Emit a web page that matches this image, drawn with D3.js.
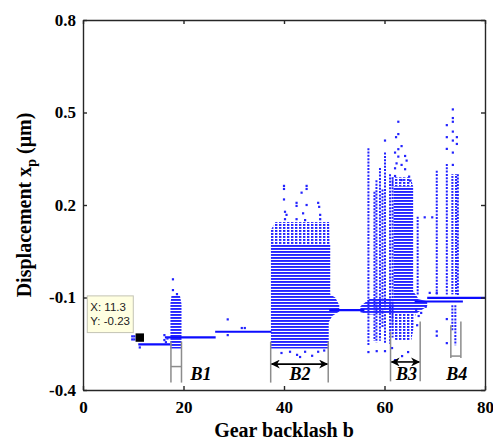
<!DOCTYPE html>
<html>
<head>
<meta charset="utf-8">
<script src="https://cdn.jsdelivr.net/npm/d3@7"></script>
<style>
body { margin: 0; background: #fff; }
svg { display: block; }
.axis text { font-family: "Liberation Serif", "Times New Roman", serif; font-weight: bold; font-size: 17px; fill: #000; }
.axis path, .axis line { stroke: #262626; stroke-width: 1.4; }
.label { font-family: "Liberation Serif", "Times New Roman", serif; font-weight: bold; fill: #000; }
.tip text { font-family: "Liberation Sans", Arial, sans-serif; font-size: 11.5px; fill: #222; }
</style>
</head>
<body>
<svg id="chart" width="493" height="441"></svg>
<script>
// axis setup
const xTicks = [0, 20, 40, 60, 80]
const yTicks = [-0.4, -0.1, 0.2, 0.5, 0.8]

// period-1 branches: [b start, b end, displacement]
const branchLines = [
    [11.0, 17.4, -0.252],
    [16.3, 26.4, -0.229],
    [26.3, 37.5, -0.211],
    [49.0, 56.0, -0.141],
    [66.0, 75.6, -0.113],
    [68.5, 80.0, -0.101]
]

// dense chaotic regions, outlines as [b, displacement]
const denseRegions = [
    [[17.6, -0.095], [19.3, -0.095], [19.6, -0.12], [19.6, -0.265], [17.4, -0.265], [17.4, -0.12]],
    [[37.4, 0.070], [49.2, 0.070], [49.2, -0.09], [50.2, -0.10], [51.0, -0.125], [51.0, -0.145],
     [49.6, -0.16], [48.9, -0.18], [48.9, -0.265], [37.4, -0.265]],
    [[61.8, 0.26], [65.7, 0.26], [65.7, -0.08], [66.6, -0.10], [66.6, -0.112], [61.8, -0.112]],
    [[55.2, -0.128], [57.0, -0.105], [66.6, -0.105], [68.5, -0.112], [68.5, -0.128], [66.5, -0.15],
     [57.0, -0.155], [55.2, -0.148]]
]

// less dense regions
const mediumRegions = [
    [[37.4, 0.070], [37.4, 0.12], [38.3, 0.145], [49.0, 0.145], [49.2, 0.070]],
    [[61.4, 0.26], [61.6, 0.29], [65.2, 0.29], [65.7, 0.26]],
    [[61.4, -0.15], [66.2, -0.15], [65.8, -0.20], [65.3, -0.24], [62.2, -0.24], [61.4, -0.20]],
    [[73.3, 0.30], [74.5, 0.30], [74.5, -0.09], [73.3, -0.09]]
]

// single-b columns of points: [b, top, bottom]
const pointColumns = [
    [56.8, 0.384, -0.255],
    [58.0, 0.243, -0.240],
    [58.4, 0.280, -0.245],
    [59.1, 0.320, -0.240],
    [59.6, 0.250, -0.200],
    [60.1, 0.370, -0.250],
    [61.1, 0.300, -0.250],
    [61.6, 0.290, -0.230],
    [66.6, 0.162, -0.090],
    [70.4, 0.311, -0.090],
    [72.4, 0.333, -0.090],
    [74.6, 0.300, -0.095],
    [73.5, -0.125, -0.210],
    [74.1, -0.125, -0.255]
]

// isolated points [b, displacement]
const scatterPoints = [
    [9.8, -0.226], [10.2, -0.226], [9.8, -0.236], [10.2, -0.236], [11.3, -0.262],
    [17.9, -0.041], [17.9, -0.076], [18.7, -0.089],
    [16.2, -0.222], [16.2, -0.238], [16.8, -0.233], [16.5, -0.245],
    [28.8, -0.171], [28.8, -0.222], [31.6, -0.199], [32.2, -0.199],
    [40.0, 0.262], [44.5, 0.262], [40.0, 0.252], [44.5, 0.252], [43.5, 0.240], [40.0, 0.218],
    [42.5, 0.207], [46.8, 0.207], [42.5, 0.197], [44.5, 0.200], [47.0, 0.194], [40.2, 0.178],
    [40.5, 0.168], [43.8, 0.173], [47.2, 0.168], [40.2, 0.154], [42.5, 0.154], [44.2, 0.151],
    [47.2, 0.154],
    [41.2, -0.276], [42.6, -0.286], [44.2, -0.276], [45.6, -0.289], [46.8, -0.276], [43.2, -0.293],
    [39.5, -0.280], [48.0, -0.272],
    [62.75, 0.470], [62.75, 0.430], [62.3, 0.420], [63.4, 0.391], [62.1, 0.370], [62.75, 0.381],
    [64.1, 0.359], [62.75, 0.357], [64.4, 0.344], [62.4, 0.335], [63.4, 0.330], [62.1, 0.319],
    [64.1, 0.316], [62.1, 0.294], [63.4, 0.281], [64.9, 0.292], [65.1, 0.279], [60.1, 0.409],
    [58.45, -0.274], [60.1, -0.274], [56.8, -0.277], [62.1, -0.303], [63.5, -0.290],
    [64.7, -0.277], [61.5, -0.264],
    [68.0, 0.160], [69.5, 0.160],
    [66.3, -0.140], [66.8, -0.160], [67.3, -0.150], [68.2, -0.130], [66.5, -0.190],
    [69.0, -0.085], [70.4, -0.085], [70.4, -0.210], [70.4, -0.224], [72.4, -0.248], [72.4, -0.170],
    [73.6, 0.510], [72.4, 0.459], [72.4, 0.420], [74.4, 0.420], [73.6, 0.438], [73.6, 0.470],
    [73.6, 0.482], [73.6, 0.409], [74.4, 0.398], [72.4, 0.382], [73.6, 0.370], [73.6, 0.33]
]

// bracket annotations
const bracketLines = [
    [17.5, -0.243, -0.376], [19.6, -0.243, -0.376],
    [37.35, -0.243, -0.376], [48.8, -0.243, -0.376],
    [61.2, -0.211, -0.372], [67.1, -0.178, -0.372],
    [73.2, -0.190, -0.296], [75.2, -0.178, -0.296]
]
const crossBars = [[17.5, 19.6, -0.324], [73.2, 75.2, -0.290]]
const arrowBars = [[37.35, 48.8, -0.316], [61.2, 67.1, -0.309]]
const bracketLabels = [
    {name: 'B', sub: '1', b: 23.5, v: -0.368},
    {name: 'B', sub: '2', b: 43.2, v: -0.368},
    {name: 'B', sub: '3', b: 64.4, v: -0.368},
    {name: 'B', sub: '4', b: 74.4, v: -0.368}
]

const dataTip = {b: 11.3, v: -0.23}

const margin = { top: 20, right: 8, bottom: 51, left: 83 },
    width = 493 - margin.left - margin.right,
    height = 441 - margin.top - margin.bottom

const blue = '#2323ff'

const svg = d3.select('#chart')
const defs = svg.append('defs')

defs.append('pattern').attr('id', 'dense')
    .attr('width', 3).attr('height', 3).attr('patternUnits', 'userSpaceOnUse')
    .append('rect').attr('width', 3).attr('height', 1.9).attr('fill', blue)

defs.append('pattern').attr('id', 'medium')
    .attr('width', 4).attr('height', 3).attr('patternUnits', 'userSpaceOnUse')
    .append('rect').attr('width', 2.4).attr('height', 1.9).attr('fill', blue)

defs.append('marker').attr('id', 'head')
    .attr('viewBox', '0 0 10 10').attr('refX', 9).attr('refY', 5)
    .attr('markerWidth', 10).attr('markerHeight', 9).attr('markerUnits', 'userSpaceOnUse')
    .attr('orient', 'auto-start-reverse')
    .append('path').attr('d', 'M0,0 L10,5 L0,10 L3,5 Z').attr('fill', '#000')

const g = svg.append('g').attr('transform', `translate(${margin.left},${margin.top})`)

const x = d3.scaleLinear().domain([0, 80]).range([0, width])
const y = d3.scaleLinear().domain([-0.4, 0.8]).range([height, 0])

const outline = d3.line().x(d => x(d[0])).y(d => y(d[1]))

// chaotic bands
g.append('g').selectAll('path').data(denseRegions).join('path')
    .attr('d', d => outline(d) + 'Z')
    .attr('fill', 'url(#dense)')

g.append('g').selectAll('path').data(mediumRegions).join('path')
    .attr('d', d => outline(d) + 'Z')
    .attr('fill', 'url(#medium)')

g.append('g').selectAll('line').data(pointColumns).join('line')
    .attr('x1', d => x(d[0])).attr('x2', d => x(d[0]))
    .attr('y1', d => y(d[1])).attr('y2', d => y(d[2]))
    .attr('stroke', blue).attr('stroke-width', 2)
    .attr('stroke-dasharray', '2 1.3')

g.append('g').selectAll('line').data(branchLines).join('line')
    .attr('x1', d => x(d[0])).attr('x2', d => x(d[1]))
    .attr('y1', d => y(d[2])).attr('y2', d => y(d[2]))
    .attr('stroke', '#0c0cff').attr('stroke-width', 2.2)

g.append('g').selectAll('rect').data(scatterPoints).join('rect')
    .attr('x', d => x(d[0]) - 1.1).attr('y', d => y(d[1]) - 1.1)
    .attr('width', 2.2).attr('height', 2.2)
    .attr('fill', blue)

// brackets
g.append('g').selectAll('line').data(bracketLines).join('line')
    .attr('x1', d => x(d[0])).attr('x2', d => x(d[0]))
    .attr('y1', d => y(d[1])).attr('y2', d => y(d[2]))
    .attr('stroke', '#8c8c8c').attr('stroke-width', 1.5)

g.append('g').selectAll('line').data(crossBars).join('line')
    .attr('x1', d => x(d[0])).attr('x2', d => x(d[1]))
    .attr('y1', d => y(d[2])).attr('y2', d => y(d[2]))
    .attr('stroke', '#8c8c8c').attr('stroke-width', 1.5)

g.append('g').selectAll('line').data(arrowBars).join('line')
    .attr('x1', d => x(d[0]) + 1).attr('x2', d => x(d[1]) - 1)
    .attr('y1', d => y(d[2])).attr('y2', d => y(d[2]))
    .attr('stroke', '#000').attr('stroke-width', 1.6)
    .attr('marker-start', 'url(#head)').attr('marker-end', 'url(#head)')

g.append('g').selectAll('text').data(bracketLabels).join('text')
    .attr('class', 'label')
    .attr('x', d => x(d.b)).attr('y', d => y(d.v))
    .attr('text-anchor', 'middle')
    .style('font-style', 'italic').style('font-size', '18px')
    .text(d => d.name + d.sub)

// axes
const tickFmt = d => String(d)
g.append('g').attr('class', 'axis').attr('transform', `translate(0,${height})`)
    .call(d3.axisBottom(x).tickValues(xTicks).tickFormat(tickFmt).tickSizeInner(-4).tickSizeOuter(0).tickPadding(11))
g.append('g').attr('class', 'axis')
    .call(d3.axisLeft(y).tickValues(yTicks).tickFormat(tickFmt).tickSizeInner(-4).tickSizeOuter(0).tickPadding(7))
g.append('g').attr('class', 'axis')
    .call(d3.axisTop(x).tickValues(xTicks).tickFormat('').tickSizeInner(-4).tickSizeOuter(0))
g.append('g').attr('class', 'axis').attr('transform', `translate(${width},0)`)
    .call(d3.axisRight(y).tickValues(yTicks).tickFormat('').tickSizeInner(-4).tickSizeOuter(0))

// axis titles
svg.append('text').attr('class', 'label')
    .attr('x', margin.left + width / 2).attr('y', 437)
    .attr('text-anchor', 'middle').style('font-size', '20px')
    .text('Gear backlash b')

const yTitle = svg.append('text').attr('class', 'label')
    .attr('transform', `translate(31,${margin.top + height / 2}) rotate(-90)`)
    .attr('text-anchor', 'middle').style('font-size', '20px')
yTitle.append('tspan').text('Displacement x')
yTitle.append('tspan').attr('dy', 5).style('font-size', '14px').text('p')
yTitle.append('tspan').attr('dy', -5).attr('dx', 5).text('(μm)')

// data tip
const mx = x(dataTip.b), my = y(dataTip.v)
const tip = g.append('g').attr('class', 'tip')
tip.append('rect')
    .attr('x', mx - 52.5).attr('y', my - 41.7)
    .attr('width', 46).attr('height', 36.7)
    .attr('fill', '#ffffe1').attr('stroke', '#c4c4b4').attr('stroke-width', 1)
tip.append('text').attr('x', mx - 49.5).attr('y', my - 27).text('X: ' + dataTip.b)
tip.append('text').attr('x', mx - 49.5).attr('y', my - 12.5).text('Y: ' + dataTip.v)
tip.append('rect')
    .attr('x', mx - 4.2).attr('y', my - 4.2).attr('width', 8.4).attr('height', 8.4)
    .attr('fill', '#000')
</script>
</body>
</html>
